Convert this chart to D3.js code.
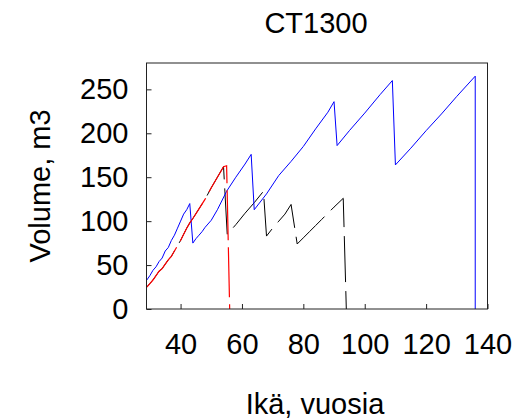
<!DOCTYPE html>
<html>
<head>
<meta charset="utf-8">
<script src="https://cdn.jsdelivr.net/npm/d3@7"></script>
<style>
  body { margin: 0; background: #fff; }
  text { font-family: "Liberation Sans", Arial, sans-serif; fill: #000; }
</style>
</head>
<body>
<script>
// chart values
var title = 'CT1300'
var xLabel = 'Ikä, vuosia'
var yLabel = 'Volume, m3'
var xTicks = [40, 60, 80, 100, 120, 140]
var yTicks = [0, 50, 100, 150, 200, 250]

var blueAge = [29, 30, 31, 32, 33, 34, 35, 36, 37, 38, 39, 40, 41, 42, 43, 44, 45, 46, 47, 48, 50, 52, 55, 58, 61, 63,
    64, 68, 72, 76, 80, 84, 88, 90, 91, 95, 100, 105, 109, 110, 115, 120, 125, 130, 136, 136]
var blueVol = [33, 38, 44, 48, 54, 58, 66, 70, 78, 84, 92, 100, 108, 113, 120, 75, 80, 84, 88, 93, 101, 113, 134, 150, 165, 176,
    113, 131, 152, 168, 185, 205, 224, 236, 186, 203, 223, 244, 260, 164, 183, 203, 222, 242, 265, 0]

var redAge = [29, 30, 31, 32, 33, 34, 35, 36, 37, 38, 39, 40, 41, 42, 43, 44, 46, 48, 50, 52, 54, 55, 56]
var redVol = [25, 29, 33, 38, 43, 46, 51, 56, 60, 66, 72, 78, 85, 92, 98, 103, 114, 125, 138, 150, 162, 163, 0]

var blackAge = [29, 30, 31, 32, 33, 34, 35, 36, 37, 38, 39, 40, 41, 42, 43, 44, 46, 48, 50, 52, 54, 55.2,
    58, 61, 64, 67, 68, 70, 72, 74, 76, 78, 80, 82, 84, 86, 88, 90, 93, 94]
var blackVol = [25, 29, 33, 38, 43, 46, 51, 56, 60, 66, 72, 78, 85, 92, 98, 103, 114, 125, 138, 150, 162, 85,
    96, 109, 121, 134, 83, 92, 100, 108, 119, 74, 81, 88, 95, 102, 109, 116, 126, 0]

var W = 522, H = 419
var margin = { top: 63, right: 34.5, bottom: 110, left: 146.5 },
    width = W - margin.left - margin.right,
    height = H - margin.top - margin.bottom

var x = d3.scaleLinear().domain([28.9, 140]).range([0, width])
var y = d3.scaleLinear().domain([0, 280]).range([height, 0])

var svg = d3.select('body').append('svg')
    .attr('width', W)
    .attr('height', H)

var g = svg.append('g')
    .attr('transform', `translate(${margin.left}, ${margin.top})`)

var line = d3.line()
    .x(d => x(d[0]))
    .y(d => y(d[1]))

function series (ages, vols) {
    return ages.map((a, i) => [a, vols[i]])
}

// black first, then blue, red on top
g.append('path')
    .datum(series(blackAge, blackVol))
    .attr('d', line)
    .attr('fill', 'none')
    .attr('stroke', '#000')
    .attr('stroke-width', 1)
    .attr('stroke-dasharray', '46,9')

g.append('path')
    .datum(series(blueAge, blueVol))
    .attr('d', line)
    .attr('fill', 'none')
    .attr('stroke', '#0000ff')
    .attr('stroke-width', 1)

g.append('path')
    .datum(series(redAge, redVol))
    .attr('d', line)
    .attr('fill', 'none')
    .attr('stroke', '#ff0000')
    .attr('stroke-width', 1.2)
    .attr('stroke-dasharray', '50,7')

// axes, ticks pointing inward
var xAxis = g.append('g')
    .attr('transform', `translate(0, ${height})`)
    .call(d3.axisBottom(x).tickValues(xTicks).tickSizeInner(-5).tickSizeOuter(0).tickPadding(24))

var yAxis = g.append('g')
    .call(d3.axisLeft(y).tickValues(yTicks).tickSizeInner(-5).tickSizeOuter(0).tickPadding(18))

g.selectAll('.domain').remove()
g.selectAll('.tick line').attr('stroke', '#222')
g.selectAll('.tick text')
    .style('font-family', '"Liberation Sans", Arial, sans-serif')
    .style('font-size', '29px')
    .attr('fill', '#000')

// frame
g.append('rect')
    .attr('width', width)
    .attr('height', height)
    .attr('fill', 'none')
    .attr('stroke', '#222')
    .attr('stroke-width', 1)

svg.append('text')
    .attr('x', 316)
    .attr('y', 33)
    .attr('text-anchor', 'middle')
    .style('font-size', '29px')
    .text(title)

svg.append('text')
    .attr('x', 315)
    .attr('y', 414)
    .attr('text-anchor', 'middle')
    .style('font-size', '29px')
    .text(xLabel)

svg.append('text')
    .attr('transform', 'translate(50, 186) rotate(-90)')
    .attr('text-anchor', 'middle')
    .style('font-size', '29px')
    .text(yLabel)
</script>
</body>
</html>
